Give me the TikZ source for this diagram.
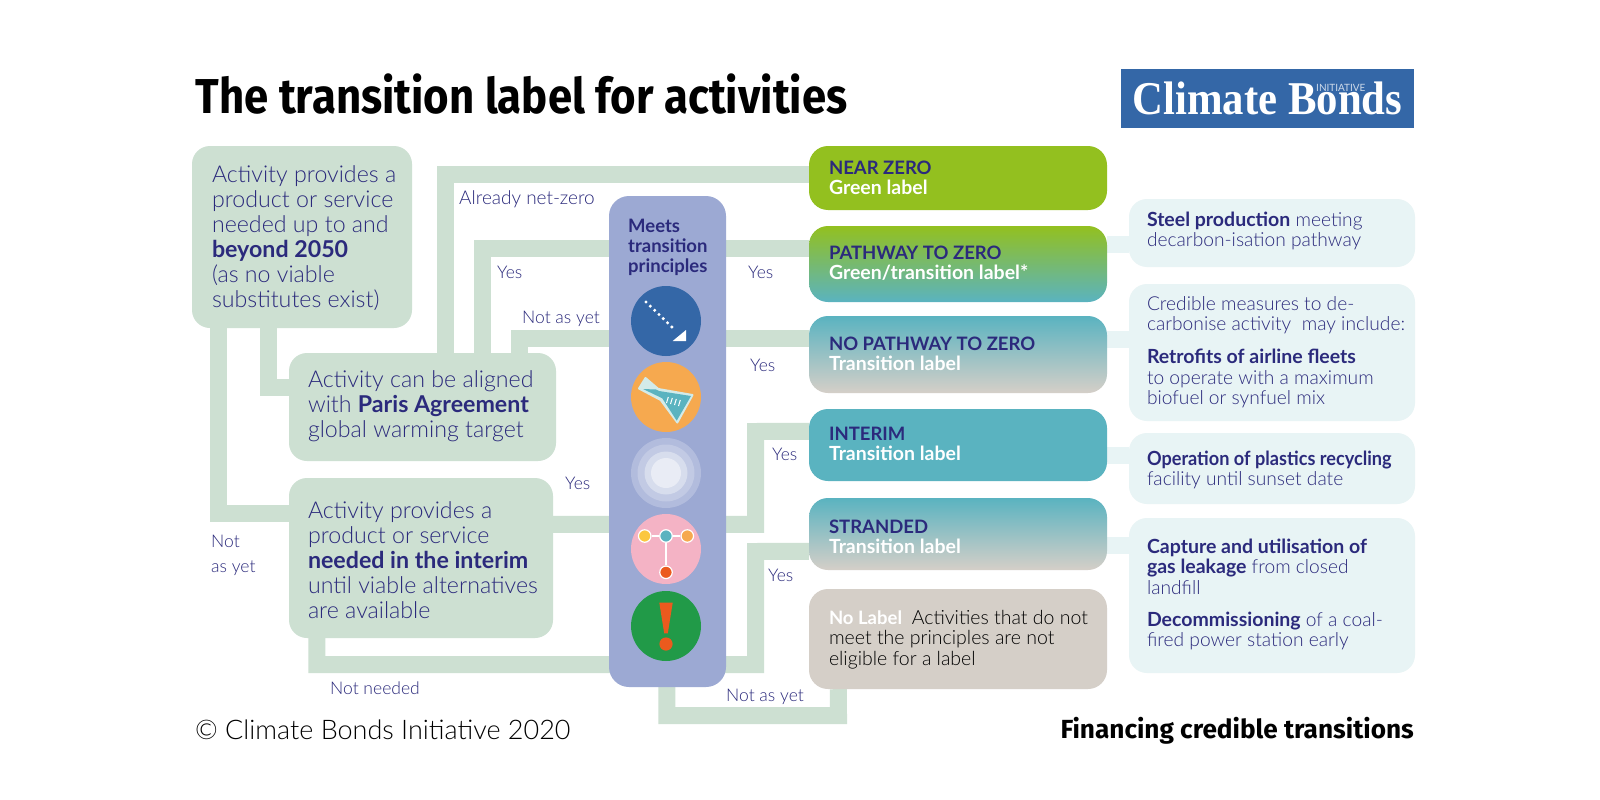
\documentclass[tikz,border=0pt]{standalone}
\usepackage{fontspec}
\usepackage{graphicx}
\setmainfont{Lato}[UprightFont=* Light,BoldFont=* Bold]
\newfontfamily\regfont{Lato}
\newfontfamily\titlefont{Fira Sans}
\newfontfamily\logofont{Liberation Serif}
\usetikzlibrary{calc}
\definecolor{boxgreen}{HTML}{CDE0D2}
\definecolor{navy}{HTML}{2B2A7C}
\definecolor{panelblue}{HTML}{9CA9D3}
\definecolor{lime}{HTML}{93C01F}
\definecolor{teal2}{HTML}{5AB3C0}
\definecolor{taupe}{HTML}{D5CFC8}
\definecolor{pale}{HTML}{E8F4F5}
\definecolor{cbiblue}{HTML}{3467A7}
\definecolor{orange2}{HTML}{F6A94F}
\definecolor{pink2}{HTML}{F4B3C5}
\definecolor{green2}{HTML}{219A48}
\definecolor{red2}{HTML}{EB5A1E}
\definecolor{yellow2}{HTML}{FBC73F}
\definecolor{flaskpale}{HTML}{D3EBE9}
\newcommand\bt[5]{\hspace*{#1pt}\parbox[c][#3pt][t]{\dimexpr#2pt-#1pt\relax}{\raggedright\rule{0pt}{#4pt}#5}}
\newcommand\lbl[2]{\textcolor{navy}{#1}\\\textcolor{white}{\fontsize{19.5}{20.2}\selectfont #2}}
\newcommand\nb[1]{{\fontsize{19.5}{20.5}\selectfont\bfseries #1}}
\pgfdeclarelayer{bg}
\pgfsetlayers{bg,main}
\tikzset{
  x=1pt,y=-1pt,
  flowbox/.style={rounded corners=18pt,fill=boxgreen,text=navy,inner sep=0pt,font=\fontsize{23.2}{25}\selectfont},
  labelbox/.style={rounded corners=19pt,inner sep=0pt,font=\fontsize{18.5}{20.2}\selectfont\bfseries},
  notebox/.style={rounded corners=18pt,fill=pale,text=navy,inner sep=0pt,font=\fontsize{19.2}{20.5}\selectfont},
  conn/.style={line width=17pt,draw=boxgreen,line join=miter},
  paleconn/.style={line width=17pt,draw=pale},
  tag/.style={anchor=base west,inner sep=0pt,text=navy,font=\fontsize{17.5}{20}\selectfont},
  icon/.style={circle,minimum size=70pt,inner sep=0pt},
  dotnode/.style={circle,minimum size=12.5pt,inner sep=0pt,draw=white,line width=1.2pt},
}
\begin{document}
\begin{tikzpicture}
\useasboundingbox (0,0) rectangle (1600,800);
\begin{pgfonlayer}{bg}
\fill[white] (0,0) rectangle (1600,800);
\end{pgfonlayer}
% title
\node[anchor=base west,inner sep=0pt,font=\titlefont\bfseries\fontsize{49}{50}\selectfont] (title) at (195.5,113.5) {\scalebox{0.893}[1]{The transition label for activities}};
% logo
\node[fill=cbiblue,minimum width=293pt,minimum height=59pt,inner sep=0pt,text=white,font=\logofont\bfseries\fontsize{47}{50}\selectfont] (logo) at (1267.5,98.5) {\raisebox{-3pt}{\scalebox{0.91}[1]{Climate Bonds}}};
\node[anchor=base west,inner sep=0pt,text=white!75!cbiblue,font=\regfont\fontsize{10}{10}\selectfont] (init) at (1316,91) {INITIATIVE};
% left boxes
\node[flowbox,minimum width=220pt,minimum height=182pt] (A) at (302,237) {\bt{20}{220}{182}{36}{Activity provides a\\product or service\\needed up to and\\\textbf{beyond 2050}\\(as no viable\\substitutes exist)}};
\node[flowbox,minimum width=267pt,minimum height=108pt] (B) at (422.5,407) {\bt{19}{267}{108}{34}{Activity can be aligned\\with \textbf{Paris Agreement}\\global warming target}};
\node[flowbox,minimum width=264pt,minimum height=160pt] (C) at (421,558) {\bt{19}{264}{160}{40}{Activity provides a\\product or service\\\textbf{needed in the interim}\\until viable alternatives\\are available}};
% label boxes
\node[labelbox,fill=lime,minimum width=298pt,minimum height=64pt] (near) at (958,178) {\bt{20}{298}{64}{28}{\lbl{NEAR ZERO}{Green label}}};
\node[labelbox,top color=lime,bottom color=teal2,minimum width=298pt,minimum height=76pt] (path) at (958,264) {\bt{20}{298}{76}{33}{\lbl{PATHWAY TO ZERO}{Green/transition label*}}};
\node[labelbox,top color=teal2,bottom color=taupe,minimum width=298pt,minimum height=77pt] (nopath) at (958,354.5) {\bt{20}{298}{77}{34}{\lbl{NO PATHWAY TO ZERO}{Transition label}}};
\node[labelbox,fill=teal2,minimum width=298pt,minimum height=72pt] (interim) at (958,445) {\bt{20}{298}{72}{31}{\lbl{INTERIM}{Transition label}}};
\node[labelbox,top color=teal2,bottom color=taupe,minimum width=298pt,minimum height=72pt] (strand) at (958,534) {\bt{20}{298}{72}{35}{\lbl{STRANDED}{Transition label}}};
\node[labelbox,fill=taupe,minimum width=298pt,minimum height=100pt,font=\fontsize{19.5}{20.5}\selectfont] (nolabel) at (958,639) {\bt{20}{298}{100}{35}{\textcolor{white}{\fontsize{18.5}{20.5}\selectfont\textbf{No Label}}\enspace Activities that do not\\meet the principles are not\\eligible for a label}};
% note boxes
\node[notebox,minimum width=286pt,minimum height=68pt] (e1) at (1272,233) {\bt{18}{286}{68}{27}{\nb{Steel production} meeting\\decarbon-isation pathway}};
\node[notebox,minimum width=286pt,minimum height=137pt] (e2) at (1272,352.5) {\bt{18}{286}{137}{26}{Credible measures to de-\\carbonise activity\ \ may include:\\[12.5pt]\nb{Retrofits of airline fleets}\\to operate with a maximum\\biofuel or synfuel mix}};
\node[notebox,minimum width=286pt,minimum height=71pt] (e3) at (1272,468.5) {\bt{18}{286}{71}{32}{\nb{\scalebox{0.93}[1]{Operation of plastics recycling}}\\facility until sunset date}};
\node[notebox,minimum width=286pt,minimum height=155pt] (e4) at (1272,595.5) {\bt{18}{286}{155}{35}{\nb{Capture and utilisation of}\\\nb{gas leakage} from closed\\landfill\\[11.5pt]\nb{Decommissioning} of a coal-\\fired power station early}};
% central panel
\node[fill=panelblue,rounded corners=20pt,minimum width=117pt,minimum height=491pt,inner sep=0pt] (panel) at (667.5,441.5) {};
\node[anchor=north west,inner sep=0pt,align=left,text=navy,font=\bfseries\fontsize{18.5}{20}\selectfont] (head) at (628,219) {Meets\\transition\\principles};
% icons
\node[icon,fill=cbiblue] (i1) at (666,321) {};
\node[icon,fill=orange2] (i2) at (666,397) {};
\node[icon,fill=white!22!panelblue] (i3) at (666,473) {};
\node[circle,minimum size=57pt,inner sep=0pt,fill=white!38!panelblue] (i3b) at (i3) {};
\node[circle,minimum size=43pt,inner sep=0pt,fill=white!60!panelblue] (i3c) at (i3) {};
\node[circle,minimum size=30pt,inner sep=0pt,fill=white!78!panelblue] (i3d) at (i3) {};
\node[icon,fill=pink2] (i4) at (666,549) {};
\node[icon,fill=green2] (i5) at (666,626) {};
% icon 1 arrow
\draw[white,line width=3.4pt,line cap=round,dash pattern=on 0pt off 6pt] (646,302) -- (675,330);
\fill[white] (686,330) -- (686,341) -- (672.7,341) -- cycle;
% icon 2 flask
\fill[flaskpale,line join=round,draw=flaskpale,line width=2pt] (645.5,378) -- (658.3,389) -- (692.5,395) -- (677.3,422.5) -- (660.7,400) -- (639,388.5) -- cycle;
\fill[teal2] (643,389) -- (656,389.5) -- (659,391) -- (691,396) -- (676.7,420.7) -- (662.3,398.3) -- cycle;
\draw[white,line width=1pt] (668.3,397) -- (666.5,403) (672.3,398) -- (670.5,404) (676.3,399) -- (674.5,405) (680.3,400) -- (678.5,406);
% icon 4 tree
\node[dotnode,fill=yellow2] (d1) at (644.7,536) {};
\node[dotnode,fill=teal2] (d2) at (666,536) {};
\node[dotnode,fill=orange2] (d3) at (687.3,536) {};
\node[dotnode,fill=red2] (d4) at (666,572.3) {};
\draw[white,line width=1.2pt] (d1) -- (d2);
\draw[white,line width=1.2pt] (d2) -- (d3);
\draw[white,line width=1.2pt] (d2) -- (d4);
% icon 5 exclamation
\fill[red2] (659.3,602.7) -- (672.7,602.7) -- (667.8,633.3) -- (664.2,633.3) -- cycle;
\fill[red2] (666,644) circle (6.6);
% connectors
\coordinate (jI) at (755.5,431.5);
\coordinate (jN) at (755.5,664.5);
\coordinate (jS) at (755.5,551.5);
\coordinate (jL) at (838.5,715.5);
\begin{pgfonlayer}{bg}
\draw[conn] ([shift={(27,0)}]A.south west) |- ([shift={(0,35.5)}]C.north west);
\draw[conn] ([shift={(76.5,0)}]A.south west) |- ([shift={(0,35)}]B.north west);
\draw[conn] ([shift={(156.5,0)}]B.north west) |- ([shift={(0,28.5)}]near.north west);
\draw[conn] ([shift={(193.5,0)}]B.north west) |- ([shift={(0,22.5)}]path.north west);
\draw[conn] ([shift={(230.5,0)}]B.north west) |- ([shift={(0,22.5)}]nopath.north west);
\draw[conn] ([shift={(0,46.5)}]C.north east) -| (jI) -- ([shift={(0,22.5)}]interim.north west);
\draw[conn] ([shift={(28,0)}]C.south west) |- (jN) -- (jS) -- ([shift={(0,53.5)}]strand.north west);
\draw[conn] ([shift={(58,0)}]panel.south west) |- (jL) -- ([shift={(29.5,0)}]nolabel.south west);
\draw[paleconn] ([shift={(0,19)}]path.north east) -- ([shift={(0,46)}]e1.north west);
\draw[paleconn] ([shift={(0,24)}]nopath.north east) -- ([shift={(0,56)}]e2.north west);
\draw[paleconn] ([shift={(0,47)}]interim.north east) -- ([shift={(0,23)}]e3.north west);
\draw[paleconn] ([shift={(0,48)}]strand.north east) -- ([shift={(0,28)}]e4.north west);
\end{pgfonlayer}
% tags
\node[tag,font=\fontsize{19}{20}\selectfont] (t1) at (459,204) {Already net-zero};
\node[tag] (t2) at (497,278) {Yes};
\node[tag] (t3) at (522,323) {Not as yet};
\node[tag] (t4) at (565,489) {Yes};
\node[tag] (t5) at (211,547) {Not};
\node[tag] (t6) at (211,572) {as yet};
\node[tag] (t7) at (330,694) {Not needed};
\node[tag] (t8) at (748,278) {Yes};
\node[tag] (t9) at (750,371) {Yes};
\node[tag] (t10) at (772,460) {Yes};
\node[tag] (t11) at (768,581) {Yes};
\node[tag] (t12) at (726,701) {Not as yet};
% footer
\node[anchor=base west,inner sep=0pt,font=\fontsize{27}{30}\selectfont] (copy) at (195,739) {© Climate Bonds Initiative 2020};
\node[anchor=base east,inner sep=0pt,font=\titlefont\bfseries\fontsize{26.2}{30}\selectfont] (fin) at (1414,738) {Financing credible transitions};
\end{tikzpicture}
\end{document}
